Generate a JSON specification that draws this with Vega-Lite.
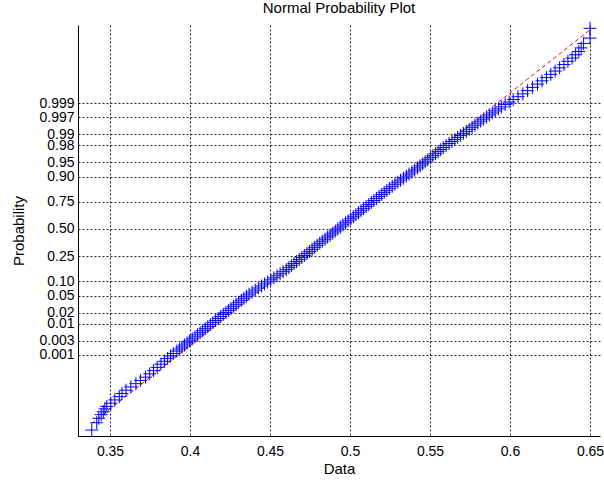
{
  "$schema": "https://vega.github.io/schema/vega-lite/v6.json",
  "width": 522,
  "height": 411,
  "autosize": {"type": "none"},
  "padding": {"left": 78, "top": 25, "right": 4, "bottom": 48},
  "background": "white",
  "title": {"text": "Normal Probability Plot", "fontSize": 15, "font": "Liberation Sans", "fontWeight": "normal", "color": "black", "offset": -11, "anchor": "middle", "baseline": "bottom", "frame": "group"},
  "config": {
    "view": {"stroke": null},
    "axis": {"labelFont": "Liberation Sans", "titleFont": "Liberation Sans", "labelFontSize": 14, "titleFontSize": 15, "titleFontWeight": "normal", "labelColor": "black", "titleColor": "black", "domainColor": "black", "domainWidth": 1, "grid": true, "gridColor": "black", "gridDash": [2, 2], "gridOpacity": 0.85, "gridWidth": 1, "ticks": false, "labelOverlap": false}
  },
  "datasets": {
    "fit": [{"x": 0.3386, "z": -4.776}, {"x": 0.65, "z": 4.894}],
    "points": [
      {"x": 0.3386, "z": -4.94}, {"x": 0.3417, "z": -4.76}, {"x": 0.3430, "z": -4.65}, {"x": 0.3445, "z": -4.56}, {"x": 0.3458, "z": -4.49}, {"x": 0.3468, "z": -4.42}, {"x": 0.3480, "z": -4.36}, {"x": 0.3505, "z": -4.28}, {"x": 0.3530, "z": -4.20}, {"x": 0.3558, "z": -4.12}, {"x": 0.3575, "z": -4.04}, {"x": 0.3600, "z": -3.96}, {"x": 0.3630, "z": -3.88}, {"x": 0.3662, "z": -3.80}, {"x": 0.3690, "z": -3.72}, {"x": 0.3722, "z": -3.64}, {"x": 0.3748, "z": -3.56}, {"x": 0.3772, "z": -3.48}, {"x": 0.3795, "z": -3.40}, {"x": 0.3818, "z": -3.32}, {"x": 0.3840, "z": -3.25}, {"x": 0.3860, "z": -3.18}, {"x": 0.3878, "z": -3.12}, {"x": 0.3895, "z": -3.06},
      {"x": 0.3918, "z": -3.00}, {"x": 0.3934, "z": -2.95}, {"x": 0.3950, "z": -2.90}, {"x": 0.3966, "z": -2.85}, {"x": 0.3982, "z": -2.80}, {"x": 0.3998, "z": -2.75}, {"x": 0.4014, "z": -2.70}, {"x": 0.4031, "z": -2.65}, {"x": 0.4047, "z": -2.60}, {"x": 0.4063, "z": -2.55}, {"x": 0.4079, "z": -2.50}, {"x": 0.4095, "z": -2.45}, {"x": 0.4111, "z": -2.40}, {"x": 0.4127, "z": -2.35}, {"x": 0.4143, "z": -2.30}, {"x": 0.4159, "z": -2.25}, {"x": 0.4176, "z": -2.20}, {"x": 0.4192, "z": -2.15}, {"x": 0.4208, "z": -2.10}, {"x": 0.4224, "z": -2.05}, {"x": 0.4240, "z": -2.00}, {"x": 0.4256, "z": -1.95}, {"x": 0.4272, "z": -1.90}, {"x": 0.4288, "z": -1.85}, {"x": 0.4304, "z": -1.80}, {"x": 0.4321, "z": -1.75}, {"x": 0.4337, "z": -1.70}, {"x": 0.4353, "z": -1.65}, {"x": 0.4369, "z": -1.60},
      {"x": 0.4388, "z": -1.55}, {"x": 0.4408, "z": -1.50}, {"x": 0.4427, "z": -1.45}, {"x": 0.4447, "z": -1.40}, {"x": 0.4466, "z": -1.35}, {"x": 0.4485, "z": -1.30}, {"x": 0.4505, "z": -1.25}, {"x": 0.4524, "z": -1.20}, {"x": 0.4544, "z": -1.15}, {"x": 0.4563, "z": -1.10}, {"x": 0.4582, "z": -1.05}, {"x": 0.4602, "z": -1.00},
      {"x": 0.4618, "z": -0.95}, {"x": 0.4634, "z": -0.90}, {"x": 0.4650, "z": -0.85}, {"x": 0.4666, "z": -0.80}, {"x": 0.4683, "z": -0.75}, {"x": 0.4699, "z": -0.70}, {"x": 0.4715, "z": -0.65}, {"x": 0.4731, "z": -0.60}, {"x": 0.4747, "z": -0.55}, {"x": 0.4763, "z": -0.50}, {"x": 0.4779, "z": -0.45}, {"x": 0.4795, "z": -0.40}, {"x": 0.4811, "z": -0.35}, {"x": 0.4827, "z": -0.30}, {"x": 0.4844, "z": -0.25}, {"x": 0.4860, "z": -0.20}, {"x": 0.4876, "z": -0.15}, {"x": 0.4892, "z": -0.10}, {"x": 0.4908, "z": -0.05}, {"x": 0.4924, "z": 0.00},
      {"x": 0.4940, "z": 0.05}, {"x": 0.4956, "z": 0.10}, {"x": 0.4972, "z": 0.15}, {"x": 0.4988, "z": 0.20}, {"x": 0.5005, "z": 0.25}, {"x": 0.5021, "z": 0.30}, {"x": 0.5037, "z": 0.35}, {"x": 0.5053, "z": 0.40}, {"x": 0.5069, "z": 0.45}, {"x": 0.5085, "z": 0.50}, {"x": 0.5101, "z": 0.55}, {"x": 0.5117, "z": 0.60}, {"x": 0.5133, "z": 0.65}, {"x": 0.5149, "z": 0.70}, {"x": 0.5166, "z": 0.75}, {"x": 0.5182, "z": 0.80}, {"x": 0.5198, "z": 0.85}, {"x": 0.5214, "z": 0.90}, {"x": 0.5230, "z": 0.95}, {"x": 0.5246, "z": 1.00},
      {"x": 0.5264, "z": 1.05}, {"x": 0.5281, "z": 1.10}, {"x": 0.5299, "z": 1.15}, {"x": 0.5316, "z": 1.20}, {"x": 0.5334, "z": 1.25}, {"x": 0.5352, "z": 1.30}, {"x": 0.5369, "z": 1.35}, {"x": 0.5387, "z": 1.40}, {"x": 0.5404, "z": 1.45}, {"x": 0.5422, "z": 1.50},
      {"x": 0.5438, "z": 1.55}, {"x": 0.5454, "z": 1.60}, {"x": 0.5470, "z": 1.65}, {"x": 0.5486, "z": 1.70}, {"x": 0.5502, "z": 1.75}, {"x": 0.5518, "z": 1.80}, {"x": 0.5535, "z": 1.85}, {"x": 0.5551, "z": 1.90}, {"x": 0.5567, "z": 1.95}, {"x": 0.5583, "z": 2.00},
      {"x": 0.5601, "z": 2.05}, {"x": 0.5619, "z": 2.10}, {"x": 0.5637, "z": 2.15}, {"x": 0.5655, "z": 2.20}, {"x": 0.5673, "z": 2.25}, {"x": 0.5691, "z": 2.30}, {"x": 0.5709, "z": 2.35}, {"x": 0.5727, "z": 2.40}, {"x": 0.5745, "z": 2.45}, {"x": 0.5763, "z": 2.50}, {"x": 0.5781, "z": 2.55}, {"x": 0.5799, "z": 2.60}, {"x": 0.5817, "z": 2.65}, {"x": 0.5835, "z": 2.70}, {"x": 0.5853, "z": 2.75}, {"x": 0.5871, "z": 2.80}, {"x": 0.5889, "z": 2.85}, {"x": 0.5907, "z": 2.90},
      {"x": 0.5928, "z": 2.95}, {"x": 0.5946, "z": 3.00}, {"x": 0.5970, "z": 3.06}, {"x": 0.5995, "z": 3.12}, {"x": 0.6020, "z": 3.18}, {"x": 0.6050, "z": 3.25}, {"x": 0.6080, "z": 3.32}, {"x": 0.6110, "z": 3.40}, {"x": 0.6140, "z": 3.48}, {"x": 0.6172, "z": 3.56}, {"x": 0.6200, "z": 3.64}, {"x": 0.6228, "z": 3.72}, {"x": 0.6255, "z": 3.80}, {"x": 0.6282, "z": 3.88}, {"x": 0.6310, "z": 3.96}, {"x": 0.6337, "z": 4.04}, {"x": 0.6362, "z": 4.12}, {"x": 0.6388, "z": 4.20}, {"x": 0.6410, "z": 4.28}, {"x": 0.6430, "z": 4.36}, {"x": 0.6445, "z": 4.45}, {"x": 0.6460, "z": 4.56}, {"x": 0.6500, "z": 4.69}, {"x": 0.6500, "z": 4.93}
    ]
  },
  "encoding": {
    "x": {"field": "x", "type": "quantitative", "scale": {"domain": [0.33, 0.65625], "nice": false, "zero": false},
      "axis": {"title": "Data", "values": [0.35, 0.4, 0.45, 0.5, 0.55, 0.6, 0.65], "format": ".2~f", "labelPadding": 8, "labelFlush": false, "labelOverlap": false, "titleY": 25, "titleBaseline": "top"}},
    "y": {"field": "z", "type": "quantitative", "scale": {"domain": [-5.086, 5.012], "nice": false, "zero": false},
      "axis": {"title": "Probability", "values": [-3.0902, -2.7478, -2.3263, -2.0537, -1.6449, -1.2816, -0.6745, 0, 0.6745, 1.2816, 1.6449, 2.0537, 2.3263, 2.7478, 3.0902],
        "labelExpr": "datum.value > 3 ? '0.999' : datum.value > 2.6 ? '0.997' : datum.value > 2.2 ? '0.99' : datum.value > 1.9 ? '0.98' : datum.value > 1.5 ? '0.95' : datum.value > 1 ? '0.90' : datum.value > 0.5 ? '0.75' : datum.value > -0.5 ? '0.50' : datum.value > -1 ? '0.25' : datum.value > -1.5 ? '0.10' : datum.value > -1.9 ? '0.05' : datum.value > -2.2 ? '0.02' : datum.value > -2.6 ? '0.01' : datum.value > -3 ? '0.003' : '0.001'",
        "labelPadding": 4, "labelOverlap": false, "labelBound": false, "labelFlush": false, "titleX": -52, "titleY": 205.5}}
  },
  "layer": [
    {
      "data": {"name": "fit"},
      "mark": {"type": "line", "color": "#ff0000", "strokeWidth": 1, "strokeDash": [4, 3]}
    },
    {
      "data": {"name": "points"},
      "mark": {"type": "point", "shape": "M-1,0L1,0M0,-1L0,1", "filled": false, "stroke": "#0000ff", "strokeWidth": 1, "size": 169, "opacity": 1}
    }
  ]
}
